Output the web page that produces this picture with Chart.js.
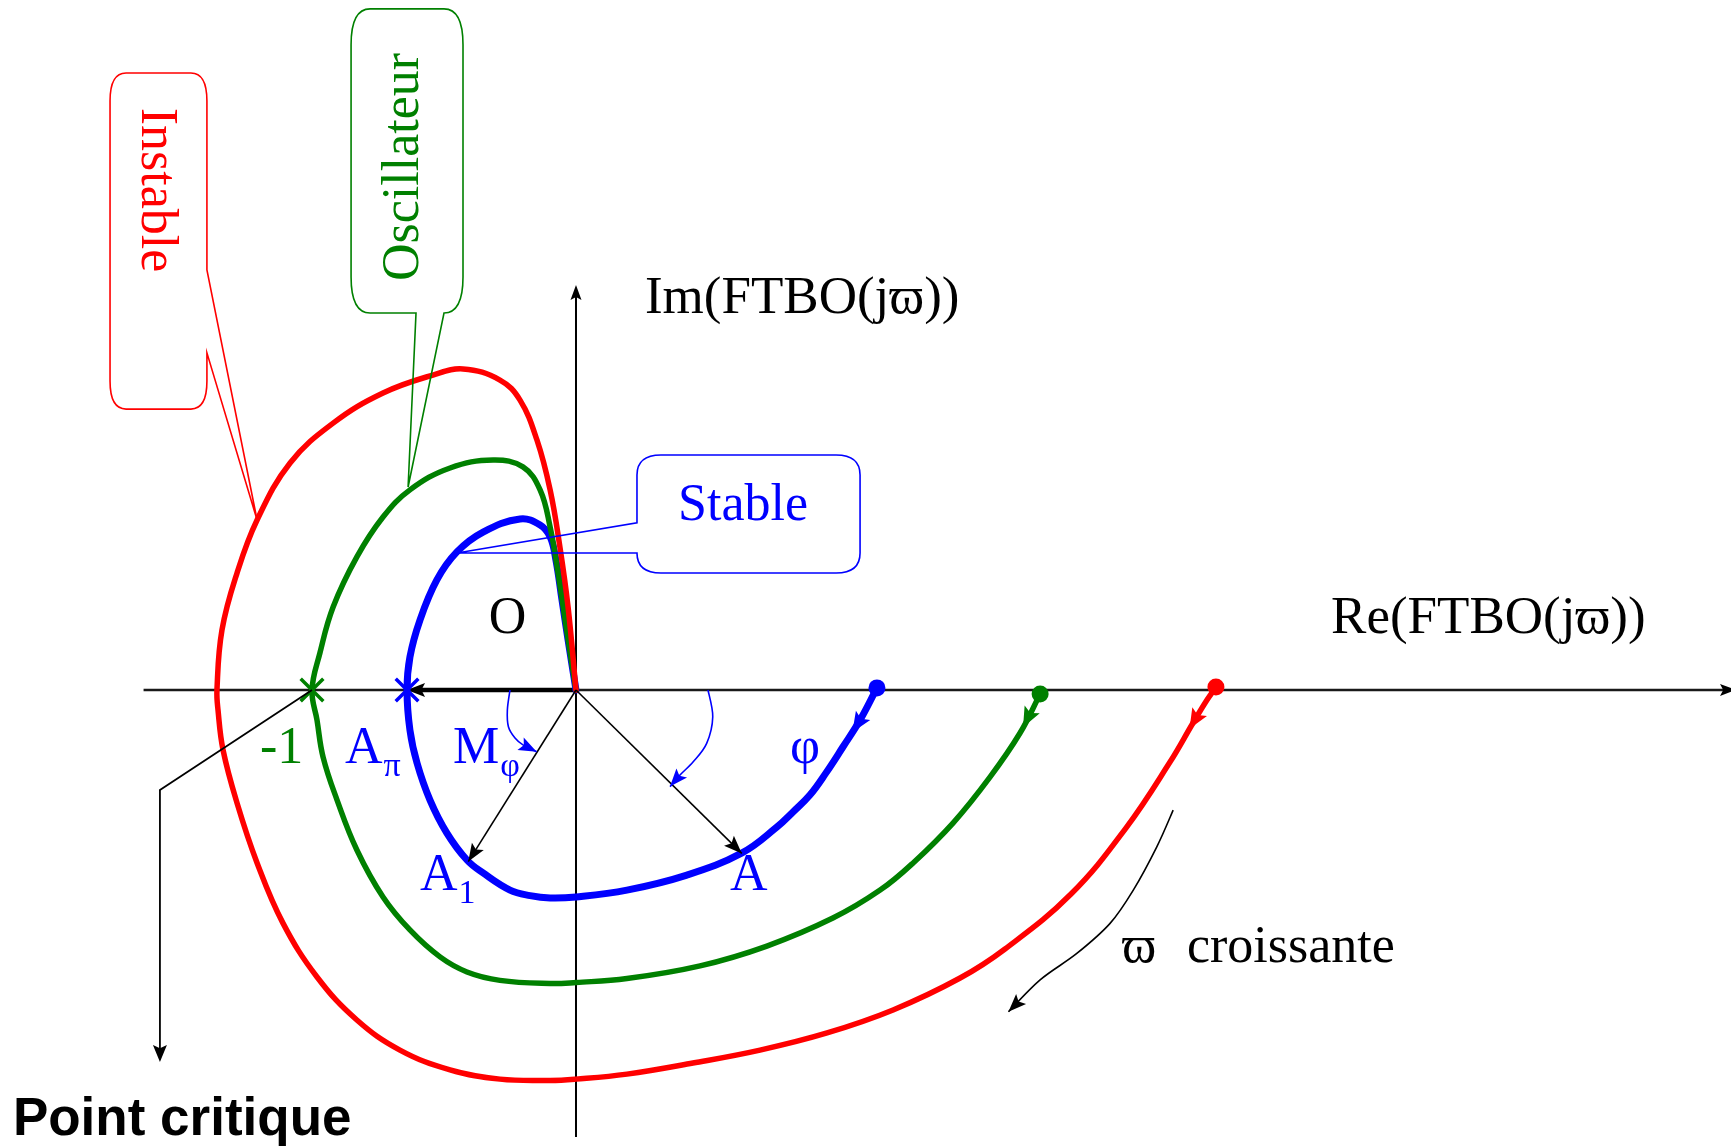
<!DOCTYPE html>
<html>
<head>
<meta charset="utf-8">
<script src="https://cdn.jsdelivr.net/npm/chart.js@4/dist/chart.umd.min.js"></script>
<style>
  html, body { margin: 0; padding: 0; background: #fff; overflow: hidden; }
  canvas { display: block; }
</style>
</head>
<body>
<canvas id="nyquist" width="1731" height="1146"></canvas>
<script>
// Nyquist loci of FTBO(jw): real and imaginary parts, from w = 0 (dot) to w -> infinity (origin)
const instableRe = [2.424, 2.390, 2.337, 2.250, 2.083, 1.875, 1.625, 1.455, 1.201, 0.951, 0.697, 0.443, 0.193, 0, -0.098, -0.288, -0.477, -0.667, -0.830, -0.981, -1.110, -1.208, -1.284, -1.337, -1.356, -1.360, -1.341, -1.284, -1.208, -1.083, -0.920, -0.731, -0.542, -0.428, -0.288, -0.212, -0.148, -0.098, -0.061, -0.030, 0];
const instableIm = [0.011, -0.038, -0.125, -0.273, -0.523, -0.773, -0.981, -1.091, -1.212, -1.299, -1.364, -1.413, -1.455, -1.474, -1.479, -1.474, -1.439, -1.364, -1.250, -1.087, -0.883, -0.655, -0.428, -0.227, -0.076, 0, 0.227, 0.443, 0.644, 0.860, 1.011, 1.125, 1.193, 1.216, 1.174, 1.098, 0.947, 0.758, 0.542, 0.314, 0];

const oscillRe = [1.758, 1.682, 1.568, 1.428, 1.277, 1.152, 0.973, 0.723, 0.470, 0.193, 0, -0.098, -0.288, -0.413, -0.515, -0.629, -0.731, -0.830, -0.905, -0.958, -0.981, -1.0, -0.970, -0.920, -0.830, -0.731, -0.629, -0.477, -0.314, -0.201, -0.136, -0.098, -0.068, -0.034, 0];
const oscillIm = [-0.015, -0.163, -0.330, -0.504, -0.655, -0.758, -0.864, -0.970, -1.045, -1.093, -1.108, -1.112, -1.100, -1.068, -1.011, -0.909, -0.784, -0.606, -0.417, -0.254, -0.114, 0, 0.140, 0.314, 0.504, 0.655, 0.758, 0.841, 0.871, 0.845, 0.758, 0.617, 0.443, 0.216, 0];

const stableRe = [1.140, 1.076, 1.011, 0.947, 0.886, 0.822, 0.761, 0.629, 0.420, 0.193, 0, -0.098, -0.174, -0.250, -0.352, -0.413, -0.489, -0.553, -0.602, -0.629, -0.640, -0.629, -0.591, -0.527, -0.451, -0.352, -0.212, -0.136, -0.098, -0.076, -0.053, -0.030, 0];
const stableIm = [0.008, -0.114, -0.216, -0.314, -0.398, -0.462, -0.519, -0.617, -0.701, -0.758, -0.784, -0.788, -0.779, -0.758, -0.693, -0.644, -0.542, -0.417, -0.277, -0.152, 0, 0.125, 0.265, 0.417, 0.523, 0.598, 0.648, 0.625, 0.580, 0.492, 0.341, 0.189, 0];

// Remarkable points
const criticalPoint = [-1, 0];        // -1
const pointApi = [-0.640, 0];         // A_pi (stable locus crossing the negative real axis)
const pointA1 = [-0.408, -0.650];     // A_1 (|FTBO| = 1)
const pointA = [0.628, -0.619];       // A

// Angle arrows (phase margin and phase) and the "w croissante" arrow
const marginArcRe = [-0.250, -0.260, -0.256, -0.231, -0.201, -0.149];
const marginArcIm = [0, -0.076, -0.139, -0.182, -0.208, -0.234];
const phaseArcRe = [0.500, 0.518, 0.495, 0.444, 0.394, 0.356];
const phaseArcIm = [0, -0.101, -0.202, -0.272, -0.322, -0.366];
const omegaArcRe = [2.262, 2.200, 2.111, 2.023, 1.897, 1.758, 1.638];
const omegaArcIm = [-0.455, -0.594, -0.758, -0.884, -0.998, -1.098, -1.219];
const critLeaderRe = [-1, -1.576, -1.576];
const critLeaderIm = [0, -0.379, -1.409];

// Plot window (real units, one unit = distance O to -1)
const X_RANGE = [-2.1818, 4.375];
const Y_RANGE = [-1.7273, 2.6136];
const RE_AXIS = [-1.638, 4.394];
const IM_AXIS = [-1.693, 1.534];

const RED = '#ff0000', GREEN = '#008000', BLUE = '#0000ff', BLACK = '#000000';
const SERIF = '"Liberation Serif", "Times New Roman", "DejaVu Serif", serif';
const SANS = '"Liberation Sans", Arial, sans-serif';

const pts = (re, im) => re.map((v, i) => ({ x: v, y: im[i] }));

function locus(label, re, im, color, width) {
  return {
    label, data: pts(re, im), showLine: true, borderColor: color, borderWidth: width,
    tension: 0.4, borderCapStyle: 'round', borderJoinStyle: 'round',
    pointRadius: c => (c.dataIndex === 0 ? 8.5 : 0), pointHoverRadius: 0,
    pointBackgroundColor: color, pointBorderColor: color, pointBorderWidth: 0, clip: false
  };
}

function marker(p, color) {
  return {
    label: 'x', data: [{ x: p[0], y: p[1] }], showLine: false, pointStyle: 'crossRot',
    pointRadius: 16, pointHoverRadius: 16, pointBorderColor: color, pointBorderWidth: 3.5, clip: false
  };
}

function arrowHead(ctx, from, tip, len, half, color) {
  const a = Math.atan2(tip[1] - from[1], tip[0] - from[0]);
  ctx.save();
  ctx.translate(tip[0], tip[1]);
  ctx.rotate(a);
  ctx.beginPath();
  ctx.moveTo(0, 0);
  ctx.lineTo(-len, half);
  ctx.lineTo(-len * 0.8, 0);
  ctx.lineTo(-len, -half);
  ctx.closePath();
  ctx.fillStyle = color;
  ctx.fill();
  ctx.restore();
}

function smoothPath(ctx, p) {
  ctx.moveTo(p[0][0], p[0][1]);
  for (let i = 0; i < p.length - 1; i++) {
    const p0 = p[i - 1] || p[i], p1 = p[i], p2 = p[i + 1], p3 = p[i + 2] || p2;
    ctx.bezierCurveTo(
      p1[0] + (p2[0] - p0[0]) / 6, p1[1] + (p2[1] - p0[1]) / 6,
      p2[0] - (p3[0] - p1[0]) / 6, p2[1] - (p3[1] - p1[1]) / 6,
      p2[0], p2[1]);
  }
}

function curvedArrow(ctx, P, re, im, color, width) {
  const p = re.map((v, i) => P(v, im[i]));
  ctx.beginPath();
  smoothPath(ctx, p);
  ctx.strokeStyle = color;
  ctx.lineWidth = width;
  ctx.stroke();
  arrowHead(ctx, p[p.length - 2], p[p.length - 1], 18, 7, color);
}

function callout(ctx, L, T, R, B, rx, ry, tail, color) {
  ctx.beginPath();
  ctx.moveTo(L + rx, T);
  ctx.lineTo(R - rx, T);
  ctx.quadraticCurveTo(R, T, R, T + ry);
  if (tail.side === 'right') { ctx.lineTo(R, tail.a); ctx.lineTo(tail.tip[0], tail.tip[1]); ctx.lineTo(R, tail.b); }
  if (tail.side === 'right' && tail.b > B - ry) {
    ctx.quadraticCurveTo(R, B, R - rx, B);
  } else {
    ctx.lineTo(R, B - ry);
    ctx.quadraticCurveTo(R, B, R - rx, B);
  }
  if (tail.side === 'bottom') { ctx.lineTo(tail.b, B); ctx.lineTo(tail.tip[0], tail.tip[1]); ctx.lineTo(tail.a, B); }
  ctx.lineTo(L + rx, B);
  ctx.quadraticCurveTo(L, B, L, B - ry);
  if (tail.side === 'left') { ctx.lineTo(L, tail.b); ctx.lineTo(tail.tip[0], tail.tip[1]); ctx.lineTo(L, tail.a); }
  ctx.lineTo(L, T + ry);
  ctx.quadraticCurveTo(L, T, L + rx, T);
  ctx.closePath();
  ctx.strokeStyle = color;
  ctx.lineWidth = 1.6;
  ctx.stroke();
}

function text(ctx, s, x, y, color, font, align) {
  ctx.font = font;
  ctx.fillStyle = color;
  ctx.textAlign = align || 'left';
  ctx.textBaseline = 'alphabetic';
  ctx.fillText(s, x, y);
  return ctx.measureText(s).width;
}

function subText(ctx, main, sub, x, y, color) {
  const w = text(ctx, main, x, y, color, '52px ' + SERIF);
  text(ctx, sub, x + w + 1, y + 13, color, '34px ' + SERIF);
}

function rotatedText(ctx, s, x, y, angle, color) {
  ctx.save();
  ctx.translate(x, y);
  ctx.rotate(angle);
  text(ctx, s, 0, 0, color, '52px ' + SERIF, 'center');
  ctx.restore();
}

// Arrow placed along a locus, between sample i and i+1 at fraction t
function locusArrow(ctx, P, re, im, i, t, color) {
  const a = P(re[i], im[i]), b = P(re[i + 1], im[i + 1]);
  const tip = [a[0] + (b[0] - a[0]) * t, a[1] + (b[1] - a[1]) * t];
  arrowHead(ctx, a, tip, 20, 8.5, color);
}

const overlay = {
  id: 'overlay',
  beforeDatasetsDraw(chart) {
    const ctx = chart.ctx, xs = chart.scales.x, ys = chart.scales.y;
    const P = (x, y) => [xs.getPixelForValue(x), ys.getPixelForValue(y)];
    ctx.save();
    // Real axis
    const r0 = P(RE_AXIS[0], 0), r1 = P(RE_AXIS[1], 0);
    ctx.beginPath(); ctx.moveTo(r0[0], r0[1]); ctx.lineTo(r1[0] - 10, r1[1]);
    ctx.strokeStyle = '#1a1a1a'; ctx.lineWidth = 2.5; ctx.stroke();
    arrowHead(ctx, r0, r1, 16, 6, BLACK);
    // Imaginary axis
    const i0 = P(0, IM_AXIS[0]), i1 = P(0, IM_AXIS[1]);
    ctx.beginPath(); ctx.moveTo(i0[0], i0[1]); ctx.lineTo(i1[0], i1[1] + 10);
    ctx.strokeStyle = BLACK; ctx.lineWidth = 2; ctx.stroke();
    arrowHead(ctx, i0, i1, 15, 5.5, BLACK);
    // O -> A_pi
    const o = P(0, 0), api = P(pointApi[0], pointApi[1]);
    ctx.beginPath(); ctx.moveTo(o[0], o[1]); ctx.lineTo(api[0] + 12, api[1]);
    ctx.lineWidth = 4.5; ctx.stroke();
    arrowHead(ctx, o, api, 18, 7, BLACK);
    ctx.restore();
  },
  afterDatasetsDraw(chart) {
    const ctx = chart.ctx, xs = chart.scales.x, ys = chart.scales.y;
    const P = (x, y) => [xs.getPixelForValue(x), ys.getPixelForValue(y)];
    const X = v => xs.getPixelForValue(v), Y = v => ys.getPixelForValue(v);
    ctx.save();

    // Direction of increasing w on each locus
    locusArrow(ctx, P, stableRe, stableIm, 1, 0.45, BLUE);
    locusArrow(ctx, P, oscillRe, oscillIm, 0, 0.85, GREEN);
    locusArrow(ctx, P, instableRe, instableIm, 2, 0.15, RED);

    // Vectors O -> A_1 and O -> A
    const o = P(0, 0);
    [pointA1, pointA].forEach(p => {
      const q = P(p[0], p[1]);
      ctx.beginPath(); ctx.moveTo(o[0], o[1]); ctx.lineTo(q[0], q[1]);
      ctx.strokeStyle = BLACK; ctx.lineWidth = 1.6; ctx.stroke();
      arrowHead(ctx, o, q, 18, 7, BLACK);
    });

    // Critical point leader
    const lp = critLeaderRe.map((v, i) => P(v, critLeaderIm[i]));
    ctx.beginPath(); ctx.moveTo(lp[0][0], lp[0][1]);
    for (let i = 1; i < lp.length; i++) ctx.lineTo(lp[i][0], lp[i][1] - (i === lp.length - 1 ? 8 : 0));
    ctx.strokeStyle = BLACK; ctx.lineWidth = 1.8; ctx.stroke();
    arrowHead(ctx, lp[1], lp[2], 17, 7, BLACK);

    // Angle arrows
    curvedArrow(ctx, P, marginArcRe, marginArcIm, BLUE, 1.6);
    curvedArrow(ctx, P, phaseArcRe, phaseArcIm, BLUE, 1.6);
    curvedArrow(ctx, P, omegaArcRe, omegaArcIm, BLACK, 1.6);

    // Callouts
    const tipI = P(-1.208, 0.644), tipO = P(-0.636, 0.769), tipS = P(-0.451, 0.519);
    callout(ctx, X(-1.765), Y(2.337), X(-1.398), Y(1.064), 16, 28,
      { side: 'right', a: Y(1.591), b: Y(1.277), tip: tipI }, RED);
    callout(ctx, X(-0.852), Y(2.580), X(-0.428), Y(1.428), 19, 36,
      { side: 'bottom', a: X(-0.606), b: X(-0.500), tip: tipO }, GREEN);
    callout(ctx, X(0.231), Y(0.890), X(1.076), Y(0.443), 24, 20,
      { side: 'left', a: Y(0.633), b: Y(0.519), tip: tipS }, BLUE);

    rotatedText(ctx, 'Instable', X(-1.644), Y(1.894), Math.PI / 2, RED);
    rotatedText(ctx, 'Oscillateur', X(-0.598), Y(1.981), -Math.PI / 2, GREEN);
    text(ctx, 'Stable', X(0.633), Y(0.644), BLUE, '52px ' + SERIF, 'center');

    // Axis titles and labels
    const big = '52px ' + SERIF;
    text(ctx, 'Im(FTBO(j\u03D6))', X(0.261), Y(1.428), BLACK, '53px ' + SERIF);
    text(ctx, 'Re(FTBO(j\u03D6))', X(2.860), Y(0.216), BLACK, '53px ' + SERIF);
    text(ctx, 'O', X(-0.259), Y(0.216), BLACK, big, 'center');
    text(ctx, '-1', X(-1.197), Y(-0.277), GREEN, big);
    subText(ctx, 'A', '\u03C0', X(-0.875), Y(-0.277), BLUE);
    subText(ctx, 'M', '\u03C6', X(-0.466), Y(-0.277), BLUE);
    subText(ctx, 'A', '1', X(-0.591), Y(-0.758), BLUE);
    text(ctx, 'A', X(0.583), Y(-0.758), BLUE, big);
    text(ctx, '\u03C6', X(0.811), Y(-0.277), BLUE, big);
    text(ctx, '\u03D6', X(2.068), Y(-1.030), BLACK, big);
    text(ctx, 'croissante', X(2.314), Y(-1.030), BLACK, big);
    text(ctx, 'Point critique', X(-2.133), Y(-1.686), BLACK, 'bold 53px ' + SANS);
    ctx.restore();
  }
};

new Chart(document.getElementById('nyquist'), {
  type: 'scatter',
  data: {
    datasets: [
      marker(criticalPoint, GREEN),
      marker(pointApi, BLUE),
      locus('Instable', instableRe, instableIm, RED, 5.5),
      locus('Oscillateur', oscillRe, oscillIm, GREEN, 5.5),
      locus('Stable', stableRe, stableIm, BLUE, 7)
    ]
  },
  options: {
    responsive: false,
    animation: false,
    devicePixelRatio: 1,
    events: [],
    layout: { padding: 0, autoPadding: false },
    plugins: { legend: { display: false }, tooltip: { enabled: false } },
    scales: {
      x: { type: 'linear', min: X_RANGE[0], max: X_RANGE[1], display: false },
      y: { type: 'linear', min: Y_RANGE[0], max: Y_RANGE[1], display: false }
    }
  },
  plugins: [overlay]
});
</script>
</body>
</html>
